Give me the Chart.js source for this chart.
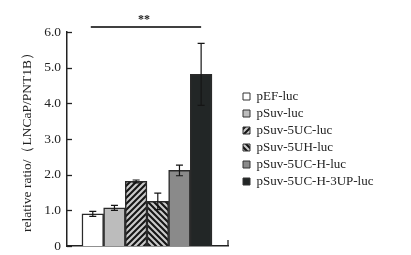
<!DOCTYPE html>
<html><head><meta charset="utf-8">
<script src="https://cdn.jsdelivr.net/npm/chart.js@4.4.1/dist/chart.umd.min.js"></script>
<style>html,body{margin:0;padding:0;background:#fff;}#wrap{width:411px;height:255px;}</style>
</head><body><div id="wrap"><canvas id="c" width="411" height="255"></canvas></div>
<script>
const categories = ['pEF-luc','pSuv-luc','pSuv-5UC-luc','pSuv-5UH-luc','pSuv-5UC-H-luc','pSuv-5UC-H-3UP-luc'];
const values = [0.90, 1.07, 1.81, 1.25, 2.12, 4.81];
const errors = [0.07, 0.07, 0.04, 0.23, 0.15, 0.87];
const yTicks = [0, 1, 2, 3, 4, 5, 6];
const yTickLabels = ['0', '1.0', '2.0', '3.0', '4.0', '5.0', '6.0'];
const yTitle = 'relative ratio/（LNCaP/PNT1B）';
const sigLabel = '**';
const sigFrom = 0, sigTo = 5;

function hatch(dir) {
  const s = 6;
  const c = document.createElement('canvas');
  c.width = c.height = s;
  const g = c.getContext('2d');
  g.fillStyle = '#cacaca';
  g.fillRect(0, 0, s, s);
  g.strokeStyle = '#151515';
  g.lineWidth = 2.1;
  g.beginPath();
  if (dir > 0) {
    g.moveTo(-1, 1); g.lineTo(1, -1);
    g.moveTo(0, s); g.lineTo(s, 0);
    g.moveTo(s - 1, s + 1); g.lineTo(s + 1, s - 1);
  } else {
    g.moveTo(-1, s - 1); g.lineTo(1, s + 1);
    g.moveTo(0, 0); g.lineTo(s, s);
    g.moveTo(s - 1, -1); g.lineTo(s + 1, 1);
  }
  g.stroke();
  return g.createPattern(c, 'repeat');
}
const fills = ['#ffffff', '#bcbcbc', hatch(1), hatch(-1), '#8a8a8a', '#222626'];
const serif = "'Liberation Serif', 'Times New Roman', serif";

const decor = {
  id: 'decor',
  beforeLayout(chart) {
    const lg = chart.legend;
    if (lg && !lg._patched) {
      const orig = lg.fit.bind(lg);
      lg.fit = function () { orig(); this.width = 183; };
      lg._patched = true;
    }
  },
  afterLayout(chart) {
    const lg = chart.legend;
    if (lg) { lg.left += 11; }
  },
  afterDatasetsDraw(chart) {
    const ctx = chart.ctx, xs = chart.scales.x, ys = chart.scales.y, ca = chart.chartArea;
    ctx.save();
    ctx.strokeStyle = '#151515';
    ctx.lineWidth = 1.2;
    values.forEach((v, i) => {
      const x = xs.getPixelForValue(i);
      const t = ys.getPixelForValue(v + errors[i]);
      const b = ys.getPixelForValue(v - errors[i]);
      ctx.beginPath();
      ctx.moveTo(x, t); ctx.lineTo(x, b);
      ctx.moveTo(x - 3.5, t); ctx.lineTo(x + 3.5, t);
      ctx.moveTo(x - 3.5, b); ctx.lineTo(x + 3.5, b);
      ctx.stroke();
    });
    // inward y ticks
    ctx.strokeStyle = '#222';
    ctx.lineWidth = 1.3;
    yTicks.forEach(v => {
      const y = Math.round(ys.getPixelForValue(v)) + 0.5;
      ctx.beginPath(); ctx.moveTo(ca.left, y); ctx.lineTo(ca.left + 5, y); ctx.stroke();
    });
    // right-end tick of x-axis
    ctx.beginPath(); ctx.moveTo(ca.right, ca.bottom); ctx.lineTo(ca.right, ca.bottom - 6); ctx.stroke();
    // significance bracket
    const x1 = xs.getPixelForValue(sigFrom) - 2, x2 = xs.getPixelForValue(sigTo);
    const yl = ca.top - 5;
    ctx.strokeStyle = '#000';
    ctx.lineWidth = 1.3;
    ctx.beginPath(); ctx.moveTo(x1, yl); ctx.lineTo(x2, yl); ctx.stroke();
    ctx.fillStyle = '#222';
    ctx.font = 'bold 12px ' + serif;
    ctx.textAlign = 'center';
    ctx.textBaseline = 'middle';
    ctx.fillText(sigLabel, (x1 + x2) / 2 - 2, ca.top - 12);
    ctx.restore();
  }
};

new Chart(document.getElementById('c'), {
  type: 'bar',
  data: {
    datasets: [{
      data: values.map((v, i) => ({ x: i, y: v })),
      backgroundColor: fills,
      borderColor: '#2a2a2a',
      borderWidth: 1.5,
      barPercentage: 1,
      categoryPercentage: 1
    }]
  },
  options: {
    responsive: false,
    animation: false,
    devicePixelRatio: 1,
    layout: { padding: { top: 32, bottom: 9, left: 0, right: 0 } },
    plugins: {
      tooltip: { enabled: false },
      legend: {
        position: 'right',
        align: 'center',
        labels: {
          boxWidth: 7,
          boxHeight: 7,
          padding: 4,
          color: '#222',
          font: { family: serif, size: 13 },
          generateLabels: () => categories.map((t, i) => ({
            text: t, fillStyle: fills[i], strokeStyle: '#333', lineWidth: 1,
            hidden: false, index: i, fontColor: '#222'
          }))
        }
      }
    },
    scales: {
      x: {
        type: 'linear',
        min: -1.19,
        max: 6.24,
        offset: false,
        afterFit: s => { s.height = 0; },
        ticks: { display: false },
        grid: { display: false, drawTicks: false },
        border: { display: true, color: '#222', width: 1.5 }
      },
      y: {
        type: 'linear',
        min: 0,
        max: 6,
        afterBuildTicks: s => { s.ticks = yTicks.map(v => ({ value: v })); },
        afterFit: s => { s.width = 67; },
        ticks: {
          padding: 0,
          color: '#222',
          font: { family: serif, size: 13.5 },
          callback: v => yTickLabels[yTicks.indexOf(v)]
        },
        grid: { display: false, drawTicks: true, tickLength: 6 },
        border: { display: true, color: '#222', width: 1.5 },
        title: {
          display: true,
          text: yTitle,
          color: '#222',
          font: { family: serif, size: 13.5 },
          padding: { top: 19, bottom: 0 }
        }
      }
    }
  },
  plugins: [decor]
});
</script>
</body></html>
